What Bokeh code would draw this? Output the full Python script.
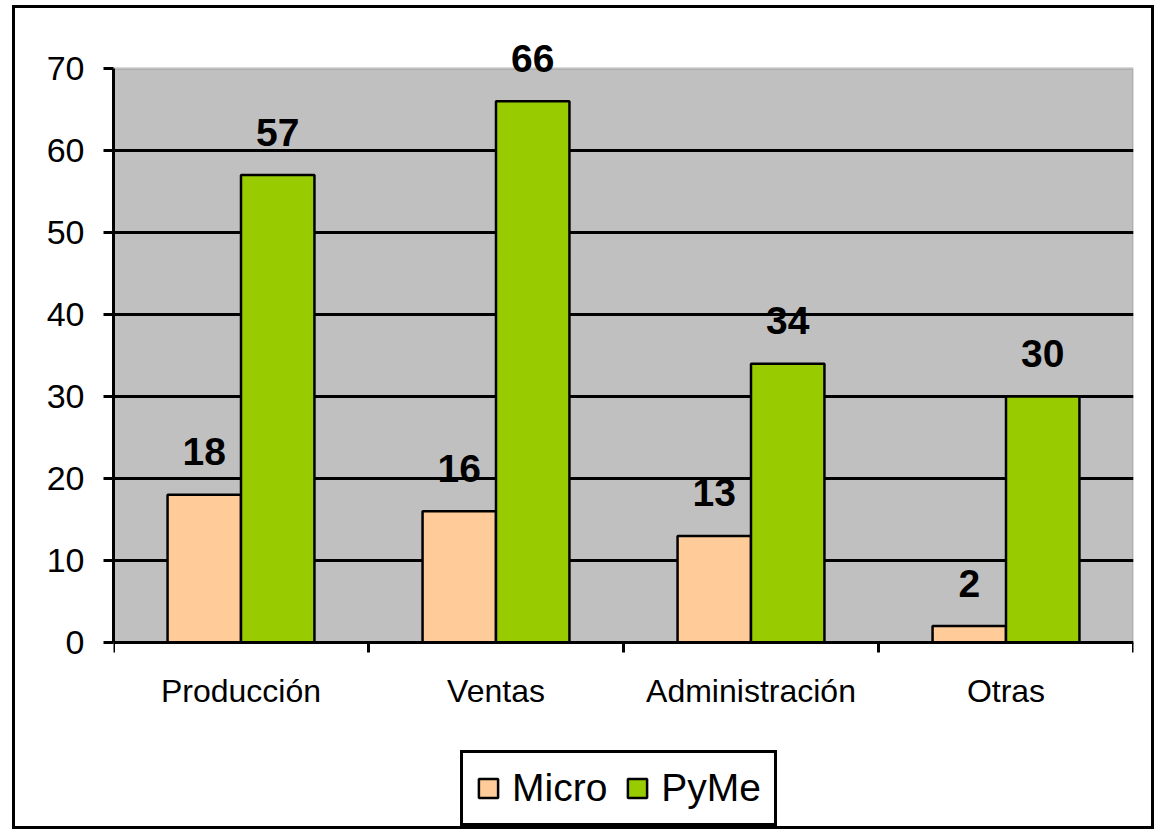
import numpy as np
from bokeh.plotting import figure
from bokeh.models import ColumnDataSource, Range1d, FixedTicker, BoxAnnotation, Legend, LegendItem
from bokeh.core.properties import value
from bokeh.embed import file_html
from bokeh.resources import INLINE

categories = ["Producción", "Ventas", "Administración", "Otras"]
micro = [18, 16, 13, 2]
pyme = [57, 66, 34, 30]
series_names = ["Micro", "PyMe"]
y_ticks = [0, 10, 20, 30, 40, 50, 60, 70]

FONT = "Liberation Sans"
centers = np.arange(len(categories)) + 0.5
off = 0.144
bw = 0.288
y_max = 70
y_head = 73.4    # room above the grey area for value labels
y_foot = -22.8   # room below the grey area for category labels and legend

src_m = ColumnDataSource(dict(x=centers - off, top=micro, lab=[str(v) for v in micro]))
src_p = ColumnDataSource(dict(x=centers + off, top=pyme, lab=[str(v) for v in pyme]))

p = figure(width=1142, height=824, x_range=Range1d(0, len(categories)), y_range=Range1d(y_foot, y_head),
           output_backend="svg", toolbar_location=None,
           min_border_left=98, min_border_top=32, min_border_right=24, min_border_bottom=3,
           background_fill_color="white", border_fill_color="white",
           outline_line_color=None,
           styles={"border": "3px solid black", "margin-left": "12px", "margin-top": "5px"})

# grey plot area 0..70
bg = BoxAnnotation(left=0, right=len(categories), bottom=0, top=y_max,
                   fill_color="#C0C0C0", fill_alpha=1.0, line_color="#808080", line_width=3,
                   level="image")
p.add_layout(bg)

p.xgrid.visible = False
p.ygrid.ticker = FixedTicker(ticks=y_ticks[1:-1])
p.ygrid.grid_line_color = "black"
p.ygrid.grid_line_width = 3
p.ygrid.level = "underlay"

r_m = p.vbar(x="x", top="top", width=bw, bottom=0, source=src_m, fill_color="#FFCC99",
             line_color="black", line_width=2.5)
r_p = p.vbar(x="x", top="top", width=bw, bottom=0, source=src_p, fill_color="#99CC00",
             line_color="black", line_width=2.5)

for s in (src_m, src_p):
    p.text(x="x", y="top", text="lab", source=s, text_font=value(FONT), text_font_size="39px",
           text_font_style="bold", text_align="center", text_baseline="alphabetic",
           y_offset=-43, text_color="black")

# y axis
ya = p.yaxis[0]
ya.ticker = FixedTicker(ticks=y_ticks)
ya.bounds = (0, y_max)
ya.axis_line_color = "black"
ya.axis_line_width = 3
ya.major_tick_out = 10
ya.major_tick_in = 0
ya.major_tick_line_width = 3
ya.minor_tick_out = 0
ya.minor_tick_in = 0
ya.major_label_text_font = FONT
ya.major_label_text_font_size = "34px"
ya.major_label_text_color = "black"
ya.major_label_standoff = 19

# x axis, drawn at y = 0
xa = p.xaxis[0]
xa.fixed_location = 0
xa.ticker = FixedTicker(ticks=list(centers), minor_ticks=list(range(len(categories) + 1)))
xa.major_label_overrides = {float(c): n for c, n in zip(centers, categories)}
xa.axis_line_color = "black"
xa.axis_line_width = 3
xa.major_tick_out = 0
xa.major_tick_in = 0
xa.minor_tick_out = 10
xa.minor_tick_in = 0
xa.minor_tick_line_width = 3
xa.minor_tick_line_color = "black"
xa.major_label_text_font = FONT
xa.major_label_text_font_size = "32px"
xa.major_label_text_color = "black"
xa.major_label_standoff = 20

lg = Legend(items=[LegendItem(label=series_names[0], renderers=[r_m]),
                   LegendItem(label=series_names[1], renderers=[r_p])])
lg.orientation = "horizontal"
lg.location = (347, 3)
lg.label_text_font = FONT
lg.label_text_font_size = "39px"
lg.label_text_color = "black"
lg.glyph_width = 24
lg.glyph_height = 24
lg.padding = 13
lg.spacing = 18
lg.label_standoff = 12
lg.margin = 0
lg.border_line_color = "black"
lg.border_line_alpha = 1.0
lg.border_line_width = 3
lg.background_fill_color = "white"
lg.background_fill_alpha = 1.0
p.add_layout(lg, "center")

open("out.html", "w").write(file_html(p, INLINE))
